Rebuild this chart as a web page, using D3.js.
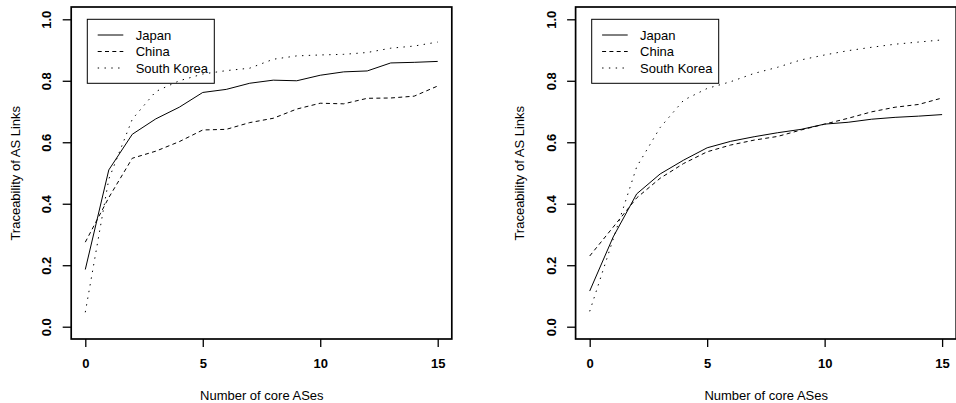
<!DOCTYPE html>
<html>
<head>
<meta charset="utf-8">
<script src="https://cdn.jsdelivr.net/npm/d3@7/dist/d3.min.js"></script>
<style>
  body { margin: 0; background: #fff; }
  text { font-family: "Liberation Sans", Arial, Helvetica, sans-serif; fill: #000; }
</style>
</head>
<body>
<div id="chart"></div>
<script>
var width = 956;
var height = 403;

// number of core ASes (x values)
var coreASes = [0, 1, 2, 3, 4, 5, 6, 7, 8, 9, 10, 11, 12, 13, 14, 15];

// left panel
var japanLeft  = [0.186, 0.510, 0.626, 0.676, 0.714, 0.762, 0.772, 0.792, 0.802, 0.800, 0.818, 0.829, 0.832, 0.858, 0.860, 0.863];
var chinaLeft  = [0.275, 0.420, 0.548, 0.571, 0.602, 0.640, 0.642, 0.664, 0.678, 0.708, 0.727, 0.725, 0.743, 0.744, 0.750, 0.783];
var koreaLeft  = [0.047, 0.480, 0.675, 0.765, 0.800, 0.822, 0.833, 0.841, 0.870, 0.881, 0.884, 0.886, 0.892, 0.906, 0.913, 0.926];

// right panel
var japanRight = [0.116, 0.292, 0.432, 0.497, 0.542, 0.582, 0.603, 0.618, 0.631, 0.642, 0.659, 0.665, 0.675, 0.681, 0.685, 0.690];
var chinaRight = [0.230, 0.324, 0.419, 0.483, 0.531, 0.569, 0.591, 0.607, 0.619, 0.640, 0.659, 0.678, 0.699, 0.714, 0.723, 0.744];
var koreaRight = [0.050, 0.285, 0.520, 0.648, 0.737, 0.775, 0.797, 0.824, 0.844, 0.868, 0.884, 0.898, 0.909, 0.919, 0.926, 0.933];

var countries = ["Japan", "China", "South Korea"];
var dashes = [null, "4,3.3", "1.4,5.4"];

var xTicks = [0, 5, 10, 15];
var yTicks = [0, 0.2, 0.4, 0.6, 0.8, 1.0];

var panels = [
    {left: 575.6 - 504.4, series: [japanLeft, chinaLeft, koreaLeft]},
    {left: 575.6, series: [japanRight, chinaRight, koreaRight]}
];
var plotW = 380.6;
var plotTop = 7;
var plotBottom = 339;

var svg = d3.select("#chart").append("svg")
    .attr("width", width)
    .attr("height", height);

svg.append("rect").attr("width", width).attr("height", height).attr("fill", "#fff");

panels.forEach(function(p) {
    var xScale = d3.scaleLinear()
        .domain([-0.6, 15.6])
        .range([p.left, p.left + plotW]);
    var yScale = d3.scaleLinear()
        .domain([-0.04, 1.04])
        .range([plotBottom, plotTop]);

    var g = svg.append("g");

    // legend box (transparent, lines drawn over it)
    var legend = g.append("g")
        .attr("transform", "translate(" + (p.left + 16.1) + ",19.3)");
    legend.append("rect")
        .attr("width", 127)
        .attr("height", 64)
        .attr("fill", "none")
        .attr("stroke", "#000")
        .attr("stroke-width", 1);
    countries.forEach(function(name, i) {
        var yy = 15.7 + i * 16.5;
        legend.append("line")
            .attr("x1", 10.4).attr("x2", 36)
            .attr("y1", yy).attr("y2", yy)
            .attr("stroke", "#000")
            .attr("stroke-width", 1)
            .attr("stroke-dasharray", dashes[i]);
        legend.append("text")
            .attr("x", 48.4)
            .attr("y", yy)
            .attr("dy", "0.35em")
            .style("font-size", "13px")
            .text(name);
    });

    // series lines
    var line = d3.line()
        .x(function(d, i) { return xScale(coreASes[i]); })
        .y(function(d) { return yScale(d); });

    p.series.forEach(function(vals, i) {
        g.append("path")
            .datum(vals)
            .attr("d", line)
            .attr("fill", "none")
            .attr("stroke", "#000")
            .attr("stroke-width", 1)
            .attr("stroke-dasharray", dashes[i]);
    });

    // axes
    var xAxis = d3.axisBottom(xScale)
        .tickValues(xTicks)
        .tickSize(8)
        .tickFormat(d3.format("d"));
    var xg = g.append("g")
        .attr("transform", "translate(0," + plotBottom + ")")
        .call(xAxis);
    xg.select(".domain").remove();
    xg.selectAll("line").attr("stroke", "#000").attr("stroke-width", 1.3);
    xg.selectAll("text")
        .attr("y", 24.3)
        .attr("dy", "0.35em")
        .style("font-size", "13px")
        .style("font-weight", "bold")
        .style("font-family", "'Liberation Sans', Arial, sans-serif");

    var yAxis = d3.axisLeft(yScale)
        .tickValues(yTicks)
        .tickSize(8.5)
        .tickFormat(d3.format(".1f"));
    var yg = g.append("g")
        .attr("transform", "translate(" + p.left + ",0)")
        .call(yAxis);
    yg.select(".domain").remove();
    yg.selectAll("line").attr("stroke", "#000").attr("stroke-width", 1.3);
    yg.selectAll("text")
        .attr("x", 0)
        .attr("dy", "0.35em")
        .attr("transform", "translate(-24.5,0) rotate(-90)")
        .attr("text-anchor", "middle")
        .style("font-size", "13px")
        .style("font-weight", "bold")
        .style("font-family", "'Liberation Sans', Arial, sans-serif");

    // box
    g.append("rect")
        .attr("x", p.left)
        .attr("y", plotTop)
        .attr("width", plotW)
        .attr("height", plotBottom - plotTop)
        .attr("fill", "none")
        .attr("stroke", "#000")
        .attr("stroke-width", 1.7);

    // axis titles
    g.append("text")
        .attr("x", p.left + plotW / 2 + 0.3)
        .attr("y", 395.7)
        .attr("dy", "0.35em")
        .attr("text-anchor", "middle")
        .style("font-size", "13px")
        .text("Number of core ASes");

    g.append("text")
        .attr("transform", "translate(" + (p.left - 56.2) + "," + 173.3 + ") rotate(-90)")
        .attr("dy", "0.35em")
        .attr("text-anchor", "middle")
        .style("font-size", "13px")
        .text("Traceability of AS Links");
});
</script>
</body>
</html>
